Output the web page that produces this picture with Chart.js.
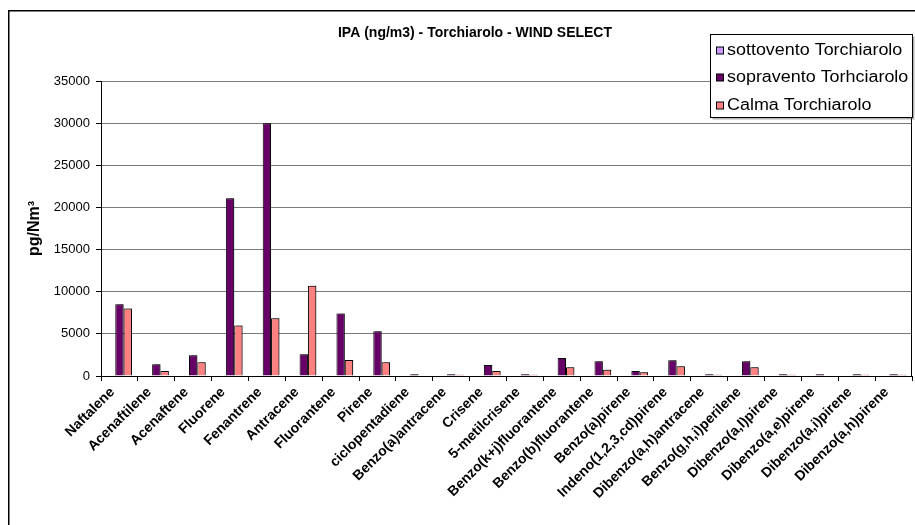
<!DOCTYPE html>
<html>
<head>
<meta charset="utf-8">
<script src="https://cdn.jsdelivr.net/npm/chart.js@4.4.1/dist/chart.umd.min.js"></script>
<style>
  html, body { margin: 0; padding: 0; background: #fff; }
  #wrap { width: 915px; height: 525px; position: relative; }
</style>
</head>
<body>
<div id="wrap"><canvas id="c" width="915" height="525"></canvas></div>
<script>
// IPA concentrations at Torchiarolo, split by wind sector (pg/Nm3)
const chartTitle = 'IPA (ng/m3) - Torchiarolo - WIND SELECT';
const yAxisTitle = 'pg/Nm³';

const categories = [
  'Naftalene', 'Acenaftilene', 'Acenaftene', 'Fluorene', 'Fenantrene',
  'Antracene', 'Fluorantene', 'Pirene', 'ciclopentadiene', 'Benzo(a)antracene',
  'Crisene', '5-metilcrisene', 'Benzo(k+j)fluorantene', 'Benzo(b)fluorantene',
  'Benzo(a)pirene', 'Indeno(1,2,3,cd)pirene', 'Dibenzo(a,h)antracene',
  'Benzo(g,h,i)perilene', 'Dibenzo(a,l)pirene', 'Dibenzo(a,e)pirene',
  'Dibenzo(a,i)pirene', 'Dibenzo(a,h)pirene'
];

const seriesNames = ['sottovento Torchiarolo', 'sopravento Torhciarolo', 'Calma Torchiarolo'];

const sottovento = [null, null, null, null, null, null, null, null, null, null, null,
                    null, null, null, null, null, null, null, null, null, null, null];
const sopravento = [8500, 1400, 2450, 21100, 30000, 2570, 7430, 5300, 200, 200, 1300,
                    200, 2140, 1740, 590, 1860, 200, 1740, 200, 200, 200, 200];
const calma      = [8000, 600, 1620, 6000, 6850, 10700, 1900, 1620, 0, 150, 590,
                    150, 1030, 750, 440, 1150, 150, 1030, 150, 0, 150, 150];

const yTicks = [0, 5000, 10000, 15000, 20000, 25000, 30000, 35000];

const seriesColors = ['#CC99FF', '#660066', '#FF8080'];

// white page, outer frame, bar shadows, plot edge, title and legend
const framePlugin = {
  id: 'frame',
  beforeDraw(chart) {
    const ctx = chart.ctx;
    ctx.save();
    ctx.fillStyle = '#fff';
    ctx.fillRect(0, 0, chart.width, chart.height);
    ctx.strokeStyle = '#000';
    ctx.lineWidth = 1.5;
    ctx.strokeRect(8.75, 10.75, 1200, 1200);
    ctx.restore();
  },
  beforeDatasetsDraw(chart) {
    const ctx = chart.ctx;
    ctx.save();
    ctx.shadowColor = 'rgba(0,0,0,0.35)';
    ctx.shadowOffsetX = 2;
    ctx.shadowOffsetY = -1;
    ctx.shadowBlur = 0;
  },
  afterDatasetsDraw(chart) {
    chart.ctx.restore();
    const { ctx, chartArea } = chart;
    ctx.save();
    ctx.strokeStyle = '#000';
    ctx.lineWidth = 1;
    ctx.beginPath();
    ctx.moveTo(Math.round(chartArea.right) - 0.5, chartArea.top);
    ctx.lineTo(Math.round(chartArea.right) - 0.5, chartArea.bottom);
    ctx.stroke();
    ctx.restore();
  },
  afterDraw(chart) {
    const ctx = chart.ctx;
    ctx.save();
    // title
    ctx.fillStyle = '#000';
    ctx.font = 'bold 14px "Liberation Sans", Arial, sans-serif';
    ctx.textAlign = 'center';
    ctx.textBaseline = 'middle';
    ctx.fillText(chartTitle, 475, 33);

    // legend box
    const bx = 710.5, by = 34.5, bw = 202, bh = 83;
    ctx.fillStyle = 'rgba(0,0,0,0.3)';
    ctx.fillRect(bx + 2, by + 2, bw, bh);
    ctx.fillStyle = '#fff';
    ctx.fillRect(bx, by, bw, bh);
    ctx.strokeStyle = '#000';
    ctx.lineWidth = 1;
    ctx.strokeRect(bx, by, bw, bh);
    const rows = [51, 78, 106];
    chart.data.datasets.forEach((ds, i) => {
      const cy = rows[i];
      ctx.fillStyle = ds.backgroundColor;
      ctx.fillRect(716.5, cy - 4, 7, 7);
      ctx.strokeStyle = '#000';
      ctx.strokeRect(716.5, cy - 4, 7, 7);
      ctx.save();
      ctx.translate(727, cy);
      ctx.scale(1.12, 1);
      ctx.fillStyle = '#000';
      ctx.font = '16px "Liberation Sans", Arial, sans-serif';
      ctx.textAlign = 'left';
      ctx.textBaseline = 'middle';
      ctx.fillText(ds.label, 0, 0);
      ctx.restore();
    });
    ctx.restore();
  }
};

const seriesData = [sottovento, sopravento, calma];

new Chart(document.getElementById('c'), {
  type: 'bar',
  data: {
    labels: categories,
    datasets: seriesNames.map((name, i) => ({
      label: name,
      data: seriesData[i],
      backgroundColor: seriesColors[i],
      borderColor: '#000',
      borderWidth: 1
    }))
  },
  options: {
    responsive: false,
    animation: false,
    devicePixelRatio: 1,
    layout: { padding: { top: 81, right: 3, bottom: 0, left: 0 } },
    datasets: { bar: { categoryPercentage: 0.68, barPercentage: 1 } },
    plugins: {
      legend: { display: false },
      title: { display: false },
      tooltip: { enabled: false }
    },
    scales: {
      x: {
        grid: { offset: true, drawOnChartArea: false, tickLength: 5, color: '#000', tickColor: '#000' },
        border: { color: '#000', width: 1 },
        ticks: {
          autoSkip: false, maxRotation: 45, minRotation: 45, padding: 3, labelOffset: -7, color: '#000',
          font: { family: '"Liberation Sans", Arial, sans-serif', size: 14, weight: 'bold' }
        },
        afterFit(scale) { scale.height = 149; }
      },
      y: {
        min: 0, max: 35000,
        afterBuildTicks(scale) { scale.ticks = yTicks.map(v => ({ value: v })); },
        grid: { color: '#7a7a7a', tickColor: '#000', tickLength: 5 },
        border: { color: '#000', width: 1 },
        ticks: {
          color: '#000', padding: 6,
          callback: (v) => String(v),
          font: { family: '"Liberation Sans", Arial, sans-serif', size: 13 }
        },
        title: {
          display: true, text: yAxisTitle, color: '#000',
          font: { family: '"Liberation Sans", Arial, sans-serif', size: 16, weight: 'bold' },
          padding: { top: 25, bottom: 0 }
        },
        afterFit(scale) { scale.width = 101; }
      }
    }
  },
  plugins: [framePlugin]
});
</script>
</body>
</html>
